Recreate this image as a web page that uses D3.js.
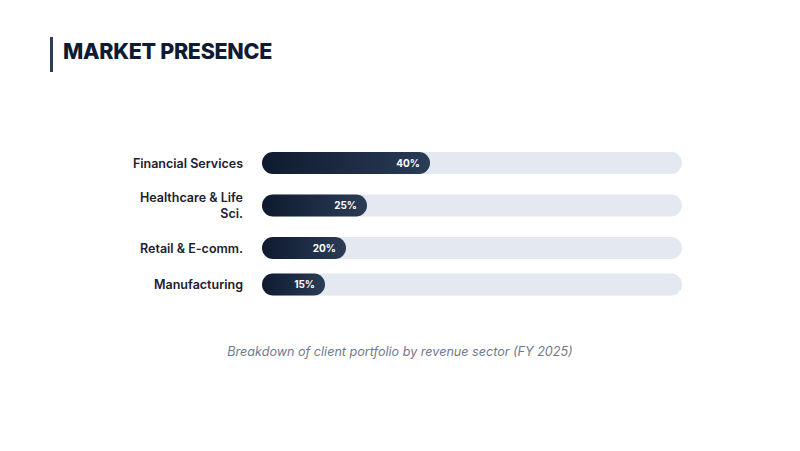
<!DOCTYPE html>
<html>
<head>
<meta charset="utf-8">
<script src="https://cdn.jsdelivr.net/npm/d3@7"></script>
<style>
  body { margin: 0; background: #fff; }
  svg { display: block; font-family: Inter, "Noto Sans", sans-serif; }
</style>
</head>
<body>
<div id="chart"></div>
<script>
var width = 800, height = 451

const sectors = ["Financial Services", "Healthcare & Life Sci.", "Retail & E-comm.", "Manufacturing"]
const shares = [40, 25, 20, 15]
const valueLabels = ["40%", "25%", "20%", "15%"]

const svg = d3.select('#chart')
	.append('svg')
	.attr('width', width)
	.attr('height', height)

const defs = svg.append('defs')
const grad = defs.append('linearGradient')
	.attr('id', 'barGrad')
	.attr('x1', '0%').attr('x2', '100%')
	.attr('y1', '0%').attr('y2', '0%')
grad.append('stop').attr('offset', '0%').attr('stop-color', '#0e1a2f')
grad.append('stop').attr('offset', '100%').attr('stop-color', '#2b3c56')

// title
svg.append('rect')
	.attr('x', 50).attr('y', 37)
	.attr('width', 3).attr('height', 35)
	.attr('fill', '#2c3e58')
svg.append('text')
	.attr('x', 63).attr('y', 59)
	.attr('font-size', 21.5)
	.attr('font-weight', 800)
	.attr('fill', '#0f1b33')
	.attr('letter-spacing', '-0.3')
	.text('MARKET PRESENCE')

var x = d3.scaleLinear()
	.domain([0, 100])
	.range([262, 682])

var barH = 22, gap = 14.5, lineH = 16.5, labelRight = 243, maxLabel = 120

// measure & wrap labels first
var measure = svg.append('text')
	.attr('font-size', 12.5).attr('font-weight', 600)
function wrap(str) {
	var words = str.split(' '), lines = [], cur = ''
	words.forEach(w => {
		var test = cur ? cur + ' ' + w : w
		measure.text(test)
		if (measure.node().getComputedTextLength() > maxLabel && cur) {
			lines.push(cur)
			cur = w
		} else cur = test
	})
	lines.push(cur)
	return lines
}
var rows = []
var yPos = 152
sectors.forEach((s, i) => {
	var lines = wrap(s)
	var h = Math.max(barH, lines.length * 17)
	rows.push({ name: s, lines: lines, value: shares[i], label: valueLabels[i], top: yPos, h: h })
	yPos += h + gap
})
measure.remove()

const g = svg.append('g')

const row = g.selectAll('g.row')
	.data(rows)
	.join('g')
	.attr('class', 'row')
	.attr('transform', d => `translate(0,${d.top + d.h / 2})`)

row.append('rect')
	.attr('x', x(0))
	.attr('y', -barH / 2)
	.attr('width', x(100) - x(0))
	.attr('height', barH)
	.attr('rx', barH / 2)
	.attr('fill', '#e4e8f0')

row.append('rect')
	.attr('x', x(0))
	.attr('y', -barH / 2)
	.attr('width', d => x(d.value) - x(0))
	.attr('height', barH)
	.attr('rx', barH / 2)
	.attr('fill', 'url(#barGrad)')

row.append('text')
	.attr('x', d => x(d.value) - 10)
	.attr('y', 0)
	.attr('dy', '0.36em')
	.attr('text-anchor', 'end')
	.attr('font-size', 10)
	.attr('font-weight', 700)
	.attr('fill', '#ffffff')
	.text(d => d.label)

row.append('text')
	.attr('text-anchor', 'end')
	.attr('font-size', 12.5)
	.attr('font-weight', 600)
	.attr('fill', '#1c2030')
	.selectAll('tspan')
	.data(d => d.lines.map((l, j) => ({ t: l, j: j, n: d.lines.length })))
	.join('tspan')
	.attr('x', labelRight)
	.attr('y', d => (d.j - (d.n - 1) / 2) * lineH)
	.attr('dy', '0.36em')
	.text(d => d.t)

svg.append('text')
	.attr('x', 400).attr('y', 356)
	.attr('text-anchor', 'middle')
	.attr('font-size', 12.6)
	.attr('font-style', 'italic')
	.attr('fill', '#717a8c')
	.text('Breakdown of client portfolio by revenue sector (FY 2025)')
</script>
</body>
</html>
